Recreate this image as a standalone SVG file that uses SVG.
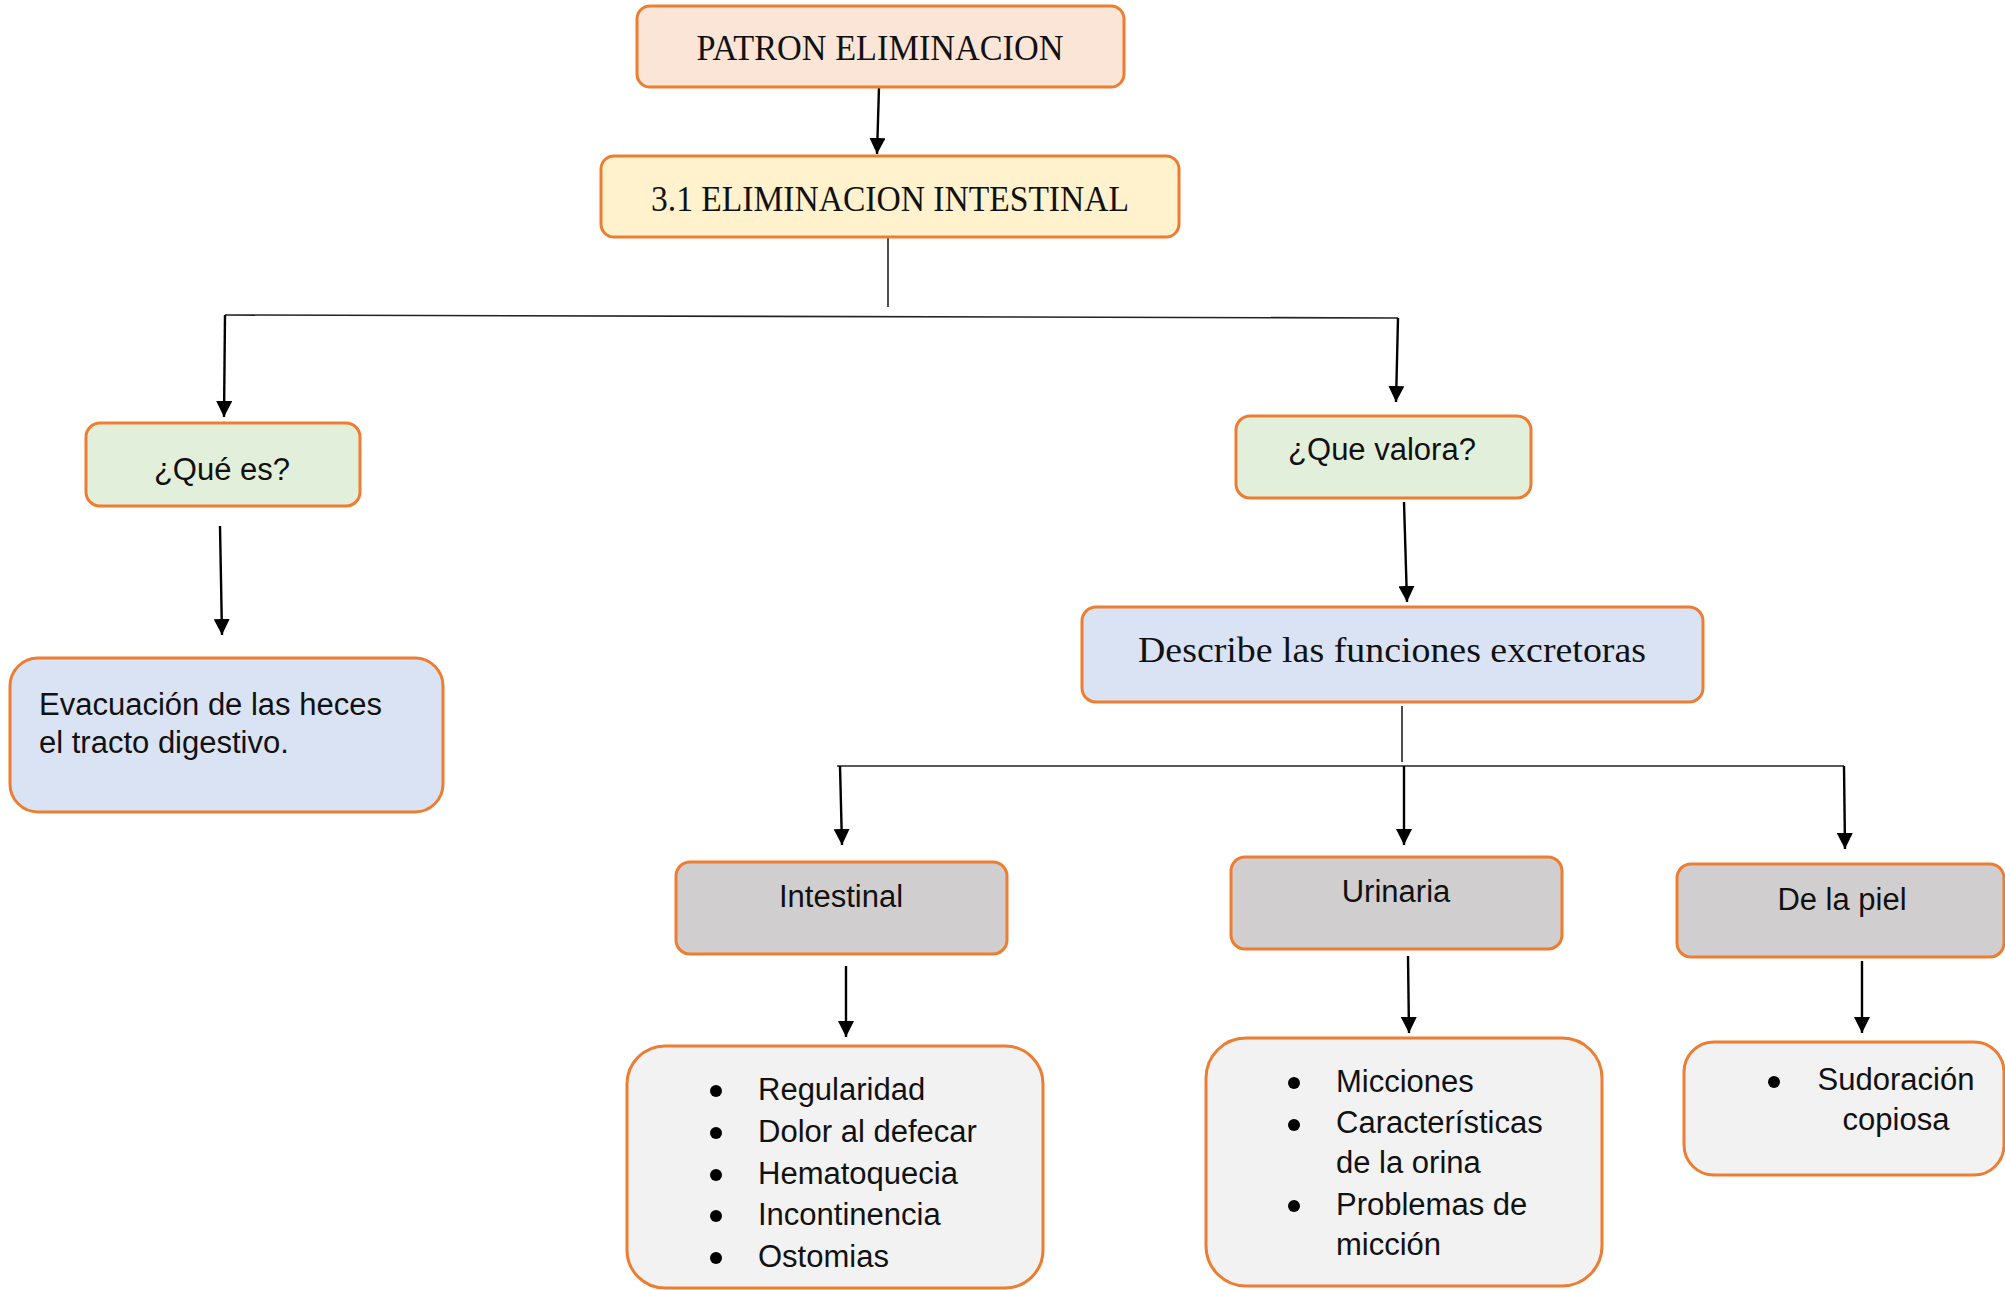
<svg xmlns="http://www.w3.org/2000/svg" width="2005" height="1290" viewBox="0 0 2005 1290">
<style>
.box{stroke:#ED7D31;stroke-width:3}
.serif{font-family:"Liberation Serif","Times New Roman",serif;font-size:35px;fill:#111}
.sans{font-family:"Liberation Sans",Arial,sans-serif;font-size:31px;fill:#111}
.thin{stroke:#222;stroke-width:1.6;fill:none}
.arr{stroke:#000;stroke-width:2.4;fill:none;marker-end:url(#ah)}
.dot{fill:#000}
</style>
<defs>
<marker id="ah" viewBox="0 0 16 16" markerWidth="16" markerHeight="16" refX="16" refY="8" orient="auto" markerUnits="userSpaceOnUse">
<path d="M0,0 L16,8 L0,16 z" fill="#000"/>
</marker>
</defs>
<rect width="2005" height="1290" fill="#fff"/>
<g id="connectors">
<line class="arr" x1="879" y1="87" x2="877" y2="154"/>
<line class="thin" x1="888" y1="237" x2="888" y2="307"/>
<line class="thin" x1="225" y1="315" x2="1398" y2="318"/>
<line class="arr" x1="225" y1="315" x2="224" y2="417"/>
<line class="arr" x1="1398" y1="318" x2="1396" y2="402"/>
<line class="arr" x1="220" y1="526" x2="222" y2="635"/>
<line class="arr" x1="1404" y1="502" x2="1407" y2="602"/>
<line class="thin" x1="1402" y1="706" x2="1402" y2="762"/>
<line class="thin" x1="837" y1="766" x2="1844" y2="766"/>
<line class="arr" x1="840" y1="766" x2="842" y2="845"/>
<line class="arr" x1="1404" y1="766" x2="1404" y2="845"/>
<line class="arr" x1="1844" y1="766" x2="1845" y2="849"/>
<line class="arr" x1="846" y1="966" x2="846" y2="1037"/>
<line class="arr" x1="1408" y1="956" x2="1409" y2="1033"/>
<line class="arr" x1="1862" y1="961" x2="1862" y2="1033"/>
</g>
<g id="n-patron">
<rect class="box" x="637" y="6" width="487" height="81" rx="13" fill="#FBE5D6"/>
<text class="serif" x="880" y="60" text-anchor="middle" textLength="367" lengthAdjust="spacingAndGlyphs">PATRON ELIMINACION</text>
</g>
<g id="n-intestinal31">
<rect class="box" x="601" y="156" width="578" height="81" rx="13" fill="#FFF2CC"/>
<text class="serif" x="890" y="211" text-anchor="middle" textLength="478" lengthAdjust="spacingAndGlyphs">3.1 ELIMINACION INTESTINAL</text>
</g>
<g id="n-quees">
<rect class="box" x="86" y="423" width="274" height="83" rx="14" fill="#E2EFDA"/>
<text class="sans" x="222" y="480" text-anchor="middle">¿Qué es?</text>
</g>
<g id="n-evacuacion">
<rect class="box" x="10" y="658" width="433" height="154" rx="28" fill="#DAE3F3"/>
<text class="sans" x="39" y="715">Evacuación de las heces</text>
<text class="sans" x="39" y="753">el tracto digestivo.</text>
</g>
<g id="n-quevalora">
<rect class="box" x="1236" y="416" width="295" height="82" rx="14" fill="#E2EFDA"/>
<text class="sans" x="1382" y="460" text-anchor="middle">¿Que valora?</text>
</g>
<g id="n-describe">
<rect class="box" x="1082" y="607" width="621" height="95" rx="14" fill="#DAE3F3"/>
<text class="serif" x="1392" y="662" text-anchor="middle" textLength="508" lengthAdjust="spacingAndGlyphs">Describe las funciones excretoras</text>
</g>
<g id="n-intestinal">
<rect class="box" x="676" y="862" width="331" height="92" rx="14" fill="#D0CECE"/>
<text class="sans" x="841" y="907" text-anchor="middle">Intestinal</text>
</g>
<g id="n-urinaria">
<rect class="box" x="1231" y="857" width="331" height="92" rx="14" fill="#D0CECE"/>
<text class="sans" x="1396" y="902" text-anchor="middle">Urinaria</text>
</g>
<g id="n-piel">
<rect class="box" x="1677" y="864" width="327" height="93" rx="14" fill="#D0CECE"/>
<text class="sans" x="1842" y="910" text-anchor="middle">De la piel</text>
</g>
<g id="n-lista-intestinal">
<rect class="box" x="627" y="1046" width="416" height="242" rx="38" fill="#F2F2F2"/>
<circle class="dot" cx="716" cy="1091" r="6"/>
<circle class="dot" cx="716" cy="1133" r="6"/>
<circle class="dot" cx="716" cy="1175" r="6"/>
<circle class="dot" cx="716" cy="1216" r="6"/>
<circle class="dot" cx="716" cy="1258" r="6"/>
<text class="sans" x="758" y="1100">Regularidad</text>
<text class="sans" x="758" y="1142">Dolor al defecar</text>
<text class="sans" x="758" y="1184">Hematoquecia</text>
<text class="sans" x="758" y="1225">Incontinencia</text>
<text class="sans" x="758" y="1267">Ostomias</text>
</g>
<g id="n-lista-urinaria">
<rect class="box" x="1206" y="1038" width="396" height="248" rx="40" fill="#F2F2F2"/>
<circle class="dot" cx="1294" cy="1083" r="6"/>
<circle class="dot" cx="1294" cy="1125" r="6"/>
<circle class="dot" cx="1294" cy="1206" r="6"/>
<text class="sans" x="1336" y="1092">Micciones</text>
<text class="sans" x="1336" y="1133">Características</text>
<text class="sans" x="1336" y="1173">de la orina</text>
<text class="sans" x="1336" y="1215">Problemas de</text>
<text class="sans" x="1336" y="1255">micción</text>
</g>
<g id="n-lista-piel">
<rect class="box" x="1684" y="1042" width="320" height="133" rx="30" fill="#F2F2F2"/>
<circle class="dot" cx="1774" cy="1082" r="6"/>
<text class="sans" x="1896" y="1090" text-anchor="middle">Sudoración</text>
<text class="sans" x="1896" y="1130" text-anchor="middle">copiosa</text>
</g>
</svg>
